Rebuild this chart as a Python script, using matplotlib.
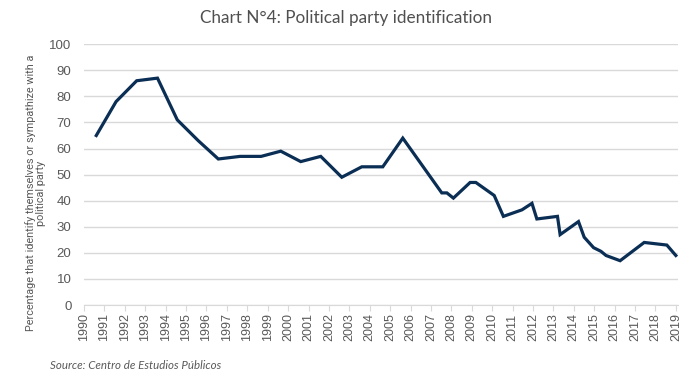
import matplotlib.pyplot as plt

# survey dates (fractional years) and share identifying with a party (%)
years = [1990.6, 1991.57, 1992.58, 1993.6, 1994.57, 1995.6, 1996.58, 1997.65,
         1998.68, 1999.64, 2000.62, 2001.6, 2002.63, 2003.61, 2004.64, 2005.62,
         2007.53, 2007.78, 2008.1, 2008.92, 2009.2, 2010.1, 2010.55, 2011.46,
         2011.95, 2012.19, 2013.2, 2013.33, 2014.23, 2014.51, 2014.97, 2015.33,
         2015.58, 2016.27, 2017.45, 2018.56, 2019.0]
values = [65, 78, 86, 87, 71, 63, 56, 57,
          57, 59, 55, 57, 49, 53, 53, 64,
          43, 43, 41, 47, 47, 42, 34, 36.5,
          39, 33, 34, 27, 32, 26, 22, 20.6,
          19, 17, 24, 23, 19]
year_ticks = list(range(1990, 2020))
y_ticks = list(range(0, 101, 10))

gray = '#595959'

fig = plt.figure(figsize=(6.91, 3.78), dpi=100)
ax = fig.add_axes([0.1216, 0.193, 0.8594, 0.69])

ax.plot(years, values, color='#0B2E55', linewidth=2.3, solid_joinstyle='miter')

ax.set_xlim(1990, 2019.1)
ax.set_ylim(0, 100)
ax.set_yticks(y_ticks)
ax.set_xticks(year_ticks)
ax.set_xticklabels([str(y) for y in year_ticks], rotation=90, fontsize=9,
                   color=gray, family='Liberation Sans')
ax.set_yticklabels([str(v) for v in y_ticks], fontsize=9.5, color=gray,
                   family='Liberation Sans')

ax.grid(axis='y', color='#D9D9D9', linewidth=1)
ax.set_axisbelow(True)
for s in ['top', 'right', 'left']:
    ax.spines[s].set_visible(False)
ax.spines['bottom'].set_color('#D9D9D9')
ax.tick_params(axis='y', length=0, pad=9)
ax.tick_params(axis='x', length=4, color='#D9D9D9', pad=2)

ax.set_ylabel('Percentage that identify themselves or sympathize with a\npolitical party',
              fontsize=7.8, color=gray, linespacing=1.0, family='Roboto')
ax.yaxis.set_label_coords(-0.064, 0.43)

fig.text(0.5, 0.952, 'Chart N°4: Political party identification', ha='center',
         va='center', fontsize=12.3, color='#505050', family='Lato')
fig.text(0.072, 0.032, 'Source: Centro de Estudios Públicos', ha='left',
         va='center', fontsize=8.3, color=gray, style='italic', family='Lato')

plt.savefig('out.png', dpi=100)
plt.close()
